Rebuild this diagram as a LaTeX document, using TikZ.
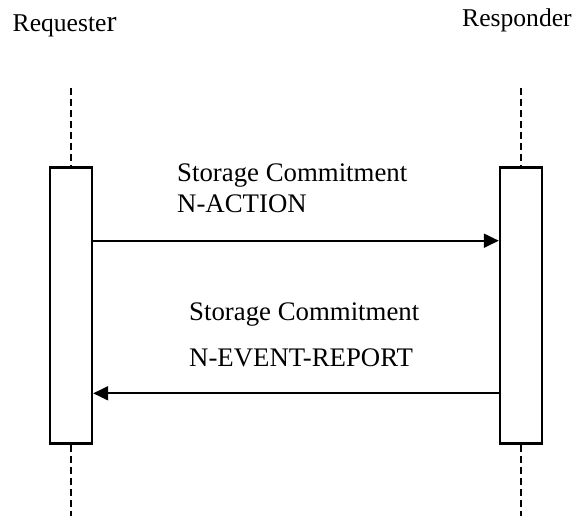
\documentclass[tikz,border=0pt]{standalone}
\usepackage{fontspec}
\setmainfont{Liberation Serif}
\usetikzlibrary{arrows.meta}
\begin{document}
\begin{tikzpicture}[x=1pt,y=-1pt,
  actbox/.style={draw=black,line width=2.4pt,fill=white,rectangle,inner sep=0pt,
    minimum width=42pt,minimum height=276pt},
  lifeline/.style={draw=black,line width=2.2pt,dash pattern=on 7pt off 4pt},
  msg/.style={draw=black,line width=2pt,-{Triangle[length=15pt,width=14pt]}},
  head/.style={font=\fontsize{25.6}{30}\selectfont,inner sep=0pt,anchor=base west},
  lbl/.style={font=\fontsize{26.8}{30}\selectfont,inner sep=0pt,anchor=base west}]
\useasboundingbox (0,0) rectangle (577,522);
% actors
\node[head] (req) at (12.5,31.7) {Requeste{\fontsize{30}{30}\selectfont r}};
\node[head] (resp) at (462,26.7) {Responder};
% lifelines
\coordinate (ltop) at (71,88);
\coordinate (lbot) at (71,516);
\coordinate (rtop) at (521,88);
\coordinate (rbot) at (521,516);
\node[actbox] (lbox) at (71,305.6) {};
\node[actbox] (rbox) at (521,305.6) {};
\draw[lifeline] (ltop) -- (lbox.north);
\draw[lifeline] (lbox.south) -- (lbot);
\draw[lifeline] (rtop) -- (rbox.north);
\draw[lifeline] (rbox.south) -- (rbot);
% messages
\coordinate (m1) at (0,240.7);
\coordinate (m2) at (0,393.3);
\draw[msg] (lbox.east |- m1) -- (rbox.west |- m1);
\draw[msg] (rbox.west |- m2) -- (lbox.east |- m2);
% labels
\node[lbl] (l1a) at (177,181.7) {Storage Commitment};
\node[lbl] (l1b) at (177,212.7) {N-ACTION};
\node[lbl] (l2a) at (189,320) {Storage Commitment};
\node[lbl] (l2b) at (189,366.7) {N-EVENT-REPORT};
\end{tikzpicture}
\end{document}
